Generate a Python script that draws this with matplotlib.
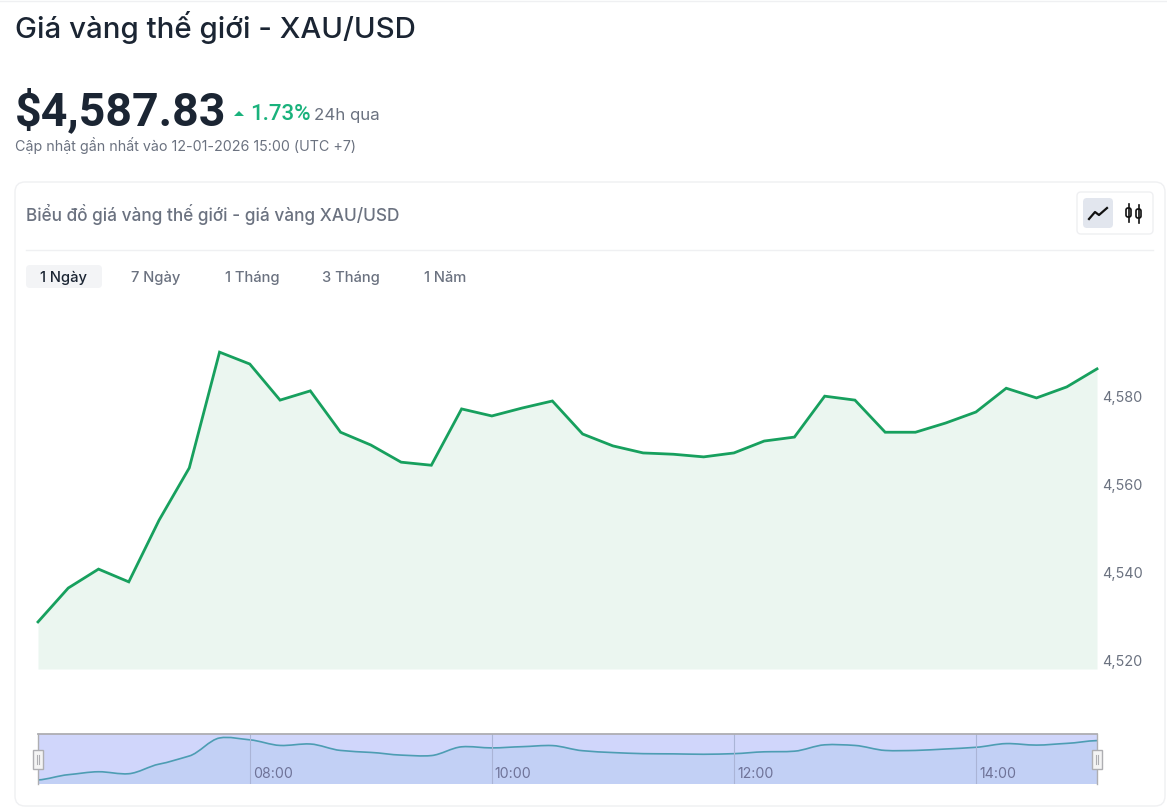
"""Gold price page: XAU/USD 1 day line chart with range slider."""
import matplotlib
matplotlib.use("Agg")
import numpy as np
import matplotlib.pyplot as plt
from matplotlib.patches import FancyBboxPatch, Rectangle, Polygon, PathPatch
from matplotlib.path import Path
from matplotlib.transforms import ScaledTranslation

plt.rcParams["font.family"] = ["Inter", "Noto Sans", "DejaVu Sans"]

times = ["06:15", "06:30", "06:45", "07:00", "07:15", "07:30", "07:45", "08:00", "08:15",
         "08:30", "08:45", "09:00", "09:15", "09:30", "09:45", "10:00", "10:15", "10:30",
         "10:45", "11:00", "11:15", "11:30", "11:45", "12:00", "12:15", "12:30", "12:45",
         "13:00", "13:15", "13:30", "13:45", "14:00", "14:15", "14:30", "14:45", "15:00"]
prices = [4528.9, 4536.6, 4540.9, 4538.0, 4552.0, 4563.9, 4590.2, 4587.5, 4579.3,
          4581.4, 4572.0, 4569.1, 4565.2, 4564.5, 4577.3, 4575.7, 4577.5, 4579.1,
          4571.6, 4568.9, 4567.3, 4567.0, 4566.4, 4567.3, 4570.0, 4570.9, 4580.2,
          4579.3, 4572.0, 4572.0, 4574.1, 4576.6, 4582.0, 4579.8, 4582.3, 4586.4]
y_ticks = [4520, 4540, 4560, 4580]
slider_ticks = ["08:00", "10:00", "12:00", "14:00"]
tabs = ["1 Ngày", "7 Ngày", "1 Tháng", "3 Tháng", "1 Năm"]

W, H = 1167, 808
DARK = "#1b2533"
GREY = "#6b7280"
GREEN = "#17a05e"
BORDER = "#eff0f2"

x = np.arange(len(prices))
y = np.array(prices)


def px_axes(fig, left, top, right, bottom, **kw):
    return fig.add_axes([left / W, 1 - bottom / H, (right - left) / W, (bottom - top) / H], **kw)


def smooth_path(xs, ys, base):
    # bezier through the points, closed along the bottom for the fill
    verts = [(xs[0], ys[0])]
    codes = [Path.MOVETO]
    for i in range(len(xs) - 1):
        y0 = ys[max(i - 1, 0)]
        y3 = ys[min(i + 2, len(ys) - 1)]
        verts += [(xs[i] + 1 / 3, ys[i] + (ys[i + 1] - y0) / 9),
                  (xs[i + 1] - 1 / 3, ys[i + 1] - (y3 - ys[i]) / 9),
                  (xs[i + 1], ys[i + 1])]
        codes += [Path.CURVE4] * 3
    line = Path(verts, codes)
    fill = Path(verts + [(xs[-1], base), (xs[0], base), (xs[0], base)],
                codes + [Path.LINETO, Path.LINETO, Path.CLOSEPOLY])
    return line, fill


fig = plt.figure(figsize=(W / 100, H / 100), dpi=100, facecolor="white")

# main chart
ax = px_axes(fig, 38, 300, 1097, 669)
ax.patch.set_alpha(0)
ax.plot(x, y, color=GREEN, lw=2.0, solid_joinstyle="miter", clip_on=False)
ax.fill_between(x, y, 4518.2, color="#ebf6f0", lw=0)
ax.set_xlim(0, len(x) - 1)
ax.set_ylim(4518.2, 4602.05)
ax.yaxis.tick_right()
ax.set_yticks(y_ticks, [f"{v:,}" for v in y_ticks])
ax.tick_params(axis="y", length=0, pad=3.5, labelsize=10.4, labelcolor=GREY)
for lab in ax.get_yticklabels():
    lab.set_transform(lab.get_transform() + ScaledTranslation(0, 1 / 100, fig.dpi_scale_trans))
ax.set_xticks([])
for s in ax.spines.values():
    s.set_visible(False)

# range slider
mini = px_axes(fig, 38, 734, 1097, 784, facecolor="#d0d6fb")
base = 4523.0
line_path, fill_path = smooth_path(x, y, base)
mini.add_patch(PathPatch(fill_path, facecolor="#c2d0f5", edgecolor="none"))
mini.add_patch(PathPatch(line_path, facecolor="none", edgecolor="#4d9db3", lw=1.2))
mini.set_xlim(0, len(x) - 1)
mini.set_ylim(base, 4596)
mini.set_yticks([])
mini.set_xticks([times.index(t) for t in slider_ticks], slider_ticks)
mini.tick_params(axis="x", length=0, pad=-12, labelsize=10.2, labelcolor="#6f7398")
for lab in mini.get_xticklabels():
    lab.set_ha("left")
    lab.set_transform(lab.get_transform() + ScaledTranslation(3 / 100, 0, fig.dpi_scale_trans))
for t in slider_ticks:
    mini.axvline(times.index(t), color="#aab4d6", lw=0.8)
mini.spines["bottom"].set_visible(False)
mini.spines["top"].set_color("#aeaeb2")
mini.spines["top"].set_linewidth(1.3)
for side in ["left", "right"]:
    mini.spines[side].set_color("#aeaeb2")
    mini.spines[side].set_linewidth(1)

# page furniture, in pixel coordinates
ov = fig.add_axes([0, 0, 1, 1], facecolor="none", zorder=5)
ov.set_xlim(0, W)
ov.set_ylim(H, 0)
ov.axis("off")

ov.plot([0, W], [0.5, 0.5], color=BORDER, lw=1)
ov.text(15, 38, "Giá vàng thế giới - XAU/USD", fontsize=21.2, fontweight="medium", color=DARK, va="baseline")
ov.text(15, 125, "$4,587.83", fontsize=33.5, fontweight="semibold", color=DARK, va="baseline", family="Roboto")
ov.add_patch(Polygon([(234, 116), (239, 111), (244, 116)], closed=True, color="#1ab27c", lw=0))
ov.text(250, 120, "1.73%", fontsize=16, fontweight="medium", color="#1ab27c", va="baseline", family="Roboto")
ov.text(314, 120, "24h qua", fontsize=12.2, color=GREY, va="baseline")
ov.text(15, 151, "Cập nhật gần nhất vào 12-01-2026 15:00 (UTC +7)", fontsize=10.3, color=GREY, va="baseline")

ov.add_patch(FancyBboxPatch((15, 182), 1150, 624, boxstyle="round,pad=0,rounding_size=10",
                            facecolor="none", edgecolor=BORDER, lw=1))
ov.text(26, 221, "Biểu đồ giá vàng thế giới - giá vàng XAU/USD", fontsize=12.4, fontweight="medium",
        color=GREY, va="baseline")
ov.plot([26, 1153], [249.5, 249.5], color=BORDER, lw=1)

# chart type switch
ov.add_patch(FancyBboxPatch((1077, 192), 76, 42, boxstyle="round,pad=0,rounding_size=4",
                            facecolor="none", edgecolor=BORDER, lw=1))
ov.add_patch(FancyBboxPatch((1083, 198), 30, 30, boxstyle="round,pad=0,rounding_size=4",
                            facecolor="#e2e6ee", edgecolor="none"))
ov.plot([1089, 1095, 1099, 1107], [219, 212, 215, 208], color="#111111", lw=1.6)
for cx, top, bot in [(1128.5, 204, 222), (1138.5, 205, 223)]:
    ov.plot([cx, cx], [top, bot], color="#111111", lw=1.2)
    ov.add_patch(FancyBboxPatch((cx - 2.5, top + 4), 5, 9, boxstyle="round,pad=0,rounding_size=2",
                                facecolor="white", edgecolor="#111111", lw=1.2))

# range tabs
ov.add_patch(FancyBboxPatch((26, 265), 76, 23, boxstyle="round,pad=0,rounding_size=4",
                            facecolor="#f3f4f6", edgecolor="none"))
for label, cx in zip(tabs, [64, 156, 252, 351, 445]):
    ov.text(cx, 282, label, fontsize=10.6, fontweight="medium", ha="center", va="baseline",
            color=DARK if label == tabs[0] else GREY)

# slider handles
for cx in [38, 1097]:
    ov.add_patch(Rectangle((cx - 5, 750), 10, 19, facecolor="#f4f4f4", edgecolor="#aeaeb2", lw=1))
    ov.plot([cx - 1.2, cx - 1.2], [755, 764], color="#aeaeb2", lw=0.8)
    ov.plot([cx + 1.2, cx + 1.2], [755, 764], color="#aeaeb2", lw=0.8)

fig.savefig("out.png", dpi=100)
